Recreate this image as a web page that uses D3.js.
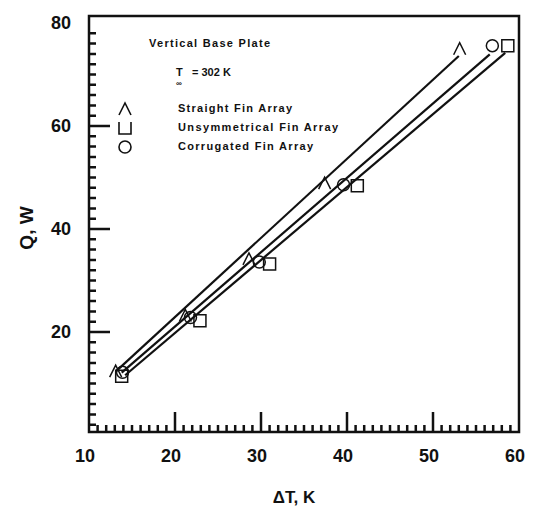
<!DOCTYPE html>
<html>
<head>
<meta charset="utf-8">
<script src="https://cdn.jsdelivr.net/npm/d3@7"></script>
<style>
  body { margin: 0; background: #fff; }
  text { font-family: "Liberation Sans", Arial, sans-serif; font-weight: bold; fill: #111; }
</style>
</head>
<body>
<svg id="chart" width="534" height="510"></svg>
<script>
// values (dT in K, Q in W)
var straightDT = [13.1, 21.2, 28.6, 37.4, 53.1];
var straightQ  = [12.4, 23.2, 34.2, 48.9, 75.0];
var unsymDT    = [13.8, 22.9, 31.0, 41.2, 58.7];
var unsymQ     = [11.4, 22.2, 33.2, 48.4, 75.6];
var corrDT     = [13.9, 21.8, 29.8, 39.6, 56.9];
var corrQ      = [12.2, 22.8, 33.6, 48.6, 75.6];

// straight fitted lines, [start, end] in (dT, Q)
var straightFit = [[13.1, 12.3], [53.0, 73.6]];
var unsymFit    = [[14.2, 11.6], [58.4, 74.2]];
var corrFit     = [[13.8, 12.1], [56.6, 73.9]];

var xTicks = [10, 20, 30, 40, 50, 60];
var yTicks = [20, 40, 60, 80];
var legendNames = ["Straight Fin Array", "Unsymmetrical Fin Array", "Corrugated Fin Array"];

var svg = d3.select("#chart");

var x = d3.scaleLinear().domain([10, 60]).range([89, 519]);
var y = d3.scaleLinear().domain([0, 80]).range([435, 23]);

var yTop = 16, yBot = 432;
var ink = "#111";

svg.append("path")
	.attr("fill", "none").attr("stroke", ink).attr("stroke-width", 2.5)
	.attr("d", "M" + x(10) + "," + yTop + "H" + x(60) + "V" + yBot + "H" + x(10) + "Z");

// tick marks drawn as one path, pointing inward
var xTickPath = d3.range(11, 60).map(function(d) {
	return "M" + x(d) + "," + yBot + "V" + (yBot - (d % 10 === 0 ? 20 : 7));
}).join("");
var yTickPath = d3.range(2, 80, 2).map(function(d) {
	return "M" + x(10) + "," + y(d) + "H" + (x(10) + (d % 20 === 0 ? 21 : 7));
}).join("");
svg.append("path").attr("d", xTickPath + yTickPath)
	.attr("fill", "none").attr("stroke", ink).attr("stroke-width", 2.5);

svg.selectAll(".xl").data(xTicks).enter().append("text")
	.attr("x", function(d) { return x(d) - 4; })
	.attr("y", 462)
	.attr("text-anchor", "middle")
	.style("font-size", "18px")
	.text(function(d) { return d; });

svg.selectAll(".yl").data(yTicks).enter().append("text")
	.attr("x", 71)
	.attr("y", function(d) { return y(d) + 6; })
	.attr("text-anchor", "end")
	.style("font-size", "18px")
	.text(function(d) { return d; });

svg.append("text")
	.attr("transform", "translate(33,228) rotate(-90)")
	.attr("text-anchor", "middle")
	.style("font-size", "19px")
	.text("Q, W");

svg.append("text")
	.attr("x", 294).attr("y", 503)
	.attr("text-anchor", "middle")
	.style("font-size", "17px")
	.text("\u0394T, K");

// marker shapes: 0 caret, 1 square, 2 circle
function drawMarker(g, kind, cx, cy, open) {
	var s = 6;
	if (kind === 0) {
		g.append("path").attr("d", "M" + (cx - s) + "," + (cy + s) + "L" + cx + "," + (cy - s) + "L" + (cx + s) + "," + (cy + s));
	} else if (kind === 1) {
		g.append("path").attr("d", "M" + (cx - s) + "," + (cy - s) + "V" + (cy + s) + "H" + (cx + s) + "V" + (cy - s) + (open ? "" : "Z"));
	} else {
		g.append("circle").attr("cx", cx).attr("cy", cy).attr("r", s);
	}
}

var series = [
	{ dt: straightDT, q: straightQ, fit: straightFit },
	{ dt: unsymDT, q: unsymQ, fit: unsymFit },
	{ dt: corrDT, q: corrQ, fit: corrFit }
];

var line = d3.line()
	.x(function(d) { return x(d[0]); })
	.y(function(d) { return y(d[1]); });

series.forEach(function(s, k) {
	svg.append("path").attr("d", line(s.fit))
		.attr("fill", "none").attr("stroke", ink).attr("stroke-width", 2.2);
	var mk = svg.append("g").attr("stroke", ink).attr("stroke-width", 1.5).attr("fill", "none");
	d3.zip(s.dt, s.q).forEach(function(p) { drawMarker(mk, k, x(p[0]), y(p[1]), false); });
});

// annotation / legend
svg.append("text").attr("x", 149).attr("y", 47)
	.attr("textLength", 121).style("font-size", "11px")
	.text("Vertical Base Plate");
svg.append("text").attr("x", 176).attr("y", 76).style("font-size", "11px").text("T");
svg.append("text").attr("x", 176).attr("y", 86).style("font-size", "8px").text("\u221e");
svg.append("text").attr("x", 192).attr("y", 76).style("font-size", "11px").text("= 302 K");

var leg = svg.append("g");
legendNames.forEach(function(name, i) {
	var ly = 112 + i * 19;
	var g = leg.append("g").attr("stroke", ink).attr("stroke-width", 1.6).attr("fill", "none");
	drawMarker(g, i, 125, ly - 3, true);
	leg.append("text").attr("x", 178).attr("y", ly)
		.attr("textLength", [114, 160, 135][i])
		.style("font-size", "11px")
		.text(name);
});
</script>
</body>
</html>
